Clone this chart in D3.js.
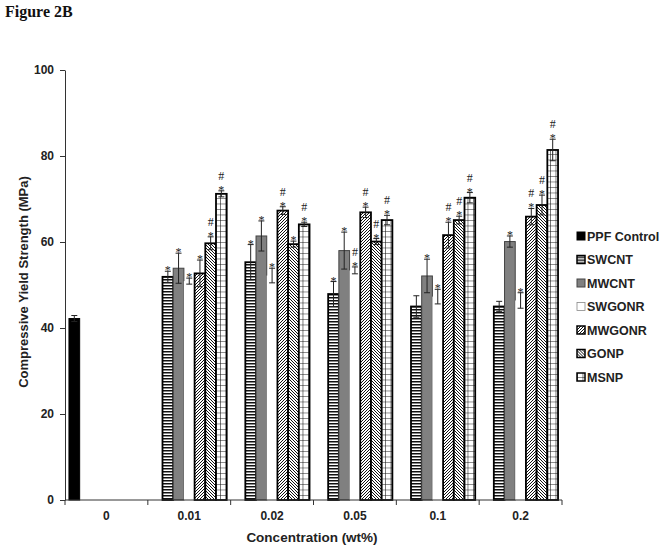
<!DOCTYPE html>
<html>
<head>
<meta charset="utf-8">
<script src="https://cdn.jsdelivr.net/npm/d3@7"></script>
<style>
  body { margin: 0; background: #fff; }
  svg { display: block; }
  .axis text { font-family: "Liberation Sans", Arial, sans-serif; font-weight: bold; font-size: 12px; fill: #222; }
  .axis path, .axis line { stroke: #333; }
  .mark { font-family: "Liberation Serif", "Times New Roman", serif; font-size: 12px; fill: #222; }
</style>
</head>
<body>
<svg id="chart" width="664" height="549"></svg>
<script>
// Categories and series
const categories = ["0", "0.01", "0.02", "0.05", "0.1", "0.2"];
const seriesNames = ["PPF Control", "SWCNT", "MWCNT", "SWGONR", "MWGONR", "GONP", "MSNP"];

// Mean compressive yield strength (MPa), null = no bar
const controlVals = [42.2, null, null, null, null, null];
const swcntVals   = [null, 51.9, 55.3, 47.9, 45.0, 45.0];
const mwcntVals   = [null, 53.9, 61.4, 58.0, 52.1, 60.1];
const swgonrVals  = [null, 50.9, 52.2, 53.4, 47.3, 46.4];
const mwgonrVals  = [null, 52.7, 67.3, 66.9, 61.6, 65.9];
const gonpVals    = [null, 59.7, 59.5, 60.1, 65.1, 68.6];
const msnpVals    = [null, 71.2, 64.1, 65.1, 70.3, 81.4];

// Standard deviations
const controlErr = [0.7, null, null, null, null, null];
const swcntErr   = [null, 1.3, 4.1, 2.9, 2.5, 1.2];
const mwcntErr   = [null, 3.5, 3.5, 4.3, 3.9, 1.3];
const swgonrErr  = [null, 0.7, 1.7, 0.8, 1.7, 1.8];
const mwgonrErr  = [null, 3.1, 0.9, 1.2, 3.0, 1.9];
const gonpErr    = [null, 1.5, 0.7, 0.7, 0.9, 2.3];
const msnpErr    = [null, 0.7, 0.5, 1.1, 1.2, 2.5];

// Significance marks ("*" vs control, "#" second comparison)
const controlMarks = ["", "", "", "", "", ""];
const swcntMarks   = ["", "*", "*", "*", "", ""];
const mwcntMarks   = ["", "*", "*", "*", "*", "*"];
const swgonrMarks  = ["", "*", "*", "#*", "*", "*"];
const mwgonrMarks  = ["", "*", "#*", "#*", "#*", "#*"];
const gonpMarks    = ["", "#*", "*", "#*", "#*", "#*"];
const msnpMarks    = ["", "#*", "#*", "#*", "#*", "#*"];

const allVals  = [controlVals, swcntVals, mwcntVals, swgonrVals, mwgonrVals, gonpVals, msnpVals];
const allErrs  = [controlErr, swcntErr, mwcntErr, swgonrErr, mwgonrErr, gonpErr, msnpErr];
const allMarks = [controlMarks, swcntMarks, mwcntMarks, swgonrMarks, mwgonrMarks, gonpMarks, msnpMarks];

const svg = d3.select("#chart");
const defs = svg.append("defs");

// Patterns
function stripes(id, w, h, draw) {
    const p = defs.append("pattern").attr("id", id)
        .attr("patternUnits", "userSpaceOnUse").attr("width", w).attr("height", h);
    p.append("rect").attr("width", w).attr("height", h).attr("fill", "#fff");
    draw(p);
}
stripes("p-hstripe", 4, 3, p => {
    p.append("rect").attr("y", 0).attr("width", 4).attr("height", 1.5).attr("fill", "#111");
});
stripes("p-fwd", 3, 3, p => {
    p.append("path").attr("d", "M-1,1 L1,-1 M0,3 L3,0 M2,4 L4,2").attr("stroke", "#111").attr("stroke-width", 1);
});
stripes("p-back", 3, 3, p => {
    p.append("path").attr("d", "M-1,2 L1,4 M0,0 L3,3 M2,-1 L4,1").attr("stroke", "#111").attr("stroke-width", 1);
});
stripes("p-grid", 5.5, 5.5, p => {
    p.append("path").attr("d", "M0,0 H5.5 M0,0 V5.5").attr("stroke", "#111").attr("stroke-width", 1.1);
});

const styles = [
    { fill: "#000", stroke: "#000", sw: 1 },
    { fill: "url(#p-hstripe)", stroke: "#000", sw: 1.8 },
    { fill: "#808080", stroke: "#444", sw: 1 },
    { fill: "#fff", stroke: "none", sw: 0 },
    { fill: "url(#p-fwd)", stroke: "#000", sw: 1.8 },
    { fill: "url(#p-back)", stroke: "#000", sw: 1.8 },
    { fill: "url(#p-grid)", stroke: "#000", sw: 1.8 }
];

// Scales
const y = d3.scaleLinear().domain([0, 100]).range([500, 70]);
const x0 = d3.scaleBand().domain(categories).range([65, 562]).padding(0);
const x1 = d3.scaleBand().domain(seriesNames).range([0, x0.bandwidth()])
    .paddingInner(0).paddingOuter(0.37);

// Title
svg.append("text").attr("x", 5).attr("y", 17)
    .attr("font-family", "Liberation Serif, Times New Roman, serif")
    .attr("font-weight", "bold").attr("font-size", 16).attr("fill", "#111")
    .text("Figure 2B");

// Bars
const bars = [];
seriesNames.forEach((s, si) => {
    categories.forEach((c, ci) => {
        const v = allVals[si][ci];
        if (v == null) return;
        bars.push({ s, si, c, v, e: allErrs[si][ci], m: allMarks[si][ci] });
    });
});

const g = svg.append("g");
g.selectAll("rect.bar").data(bars).enter().append("rect")
    .attr("class", "bar")
    .attr("x", d => x0(d.c) + x1(d.s))
    .attr("y", d => y(d.v))
    .attr("width", x1.bandwidth())
    .attr("height", d => y(0) - y(d.v))
    .attr("fill", d => styles[d.si].fill)
    .attr("stroke", d => styles[d.si].stroke)
    .attr("stroke-width", d => styles[d.si].sw);

// Error bars
const eb = g.selectAll("g.err").data(bars).enter().append("g")
    .attr("class", "err")
    .attr("stroke", "#222").attr("stroke-width", 1);
const cx = d => x0(d.c) + x1(d.s) + x1.bandwidth() / 2;
eb.append("line").attr("x1", cx).attr("x2", cx)
    .attr("y1", d => y(d.v + d.e)).attr("y2", d => y(d.v - d.e));
eb.append("line").attr("x1", d => cx(d) - 3).attr("x2", d => cx(d) + 3)
    .attr("y1", d => y(d.v + d.e)).attr("y2", d => y(d.v + d.e));
eb.append("line").attr("x1", d => cx(d) - 3).attr("x2", d => cx(d) + 3)
    .attr("y1", d => y(d.v - d.e)).attr("y2", d => y(d.v - d.e));

// Significance marks: "#" stacked over "*"
bars.filter(d => d.m).forEach(d => {
    const top = y(d.v + d.e);
    if (d.m.includes("#")) {
        g.append("text").attr("class", "mark").attr("text-anchor", "middle")
            .attr("x", cx(d)).attr("y", top - 11).text("#");
    }
    g.append("text").attr("class", "mark").attr("text-anchor", "middle")
        .attr("x", cx(d)).attr("y", top + 3).text("*");
});

// Y axis
svg.append("g").attr("class", "axis")
    .attr("transform", "translate(65,0)")
    .call(d3.axisLeft(y).tickValues([0, 20, 40, 60, 80, 100]).tickSize(5).tickSizeOuter(0).tickPadding(6));

// X axis
const xa = svg.append("g").attr("class", "axis").attr("transform", `translate(0,${y(0)})`);
xa.append("line").attr("x1", 65).attr("x2", 562).attr("stroke", "#333");
const bounds = categories.map(c => x0(c)).concat([x0.range()[1]]);
xa.selectAll("line.tk").data(bounds).enter().append("line").attr("class", "tk")
    .attr("x1", d => d).attr("x2", d => d).attr("y1", 0).attr("y2", 5).attr("stroke", "#333");
xa.selectAll("text").data(categories).enter().append("text")
    .attr("x", d => x0(d) + x0.bandwidth() / 2).attr("y", 20)
    .attr("text-anchor", "middle").text(d => d);

// Axis titles
svg.append("text").attr("transform", "translate(28,282) rotate(-90)")
    .attr("text-anchor", "middle")
    .attr("font-family", "Liberation Sans, Arial, sans-serif")
    .attr("font-weight", "bold").attr("font-size", 13).attr("fill", "#222")
    .text("Compressive Yield Strength (MPa)");
svg.append("text").attr("x", 312).attr("y", 542)
    .attr("text-anchor", "middle")
    .attr("font-family", "Liberation Sans, Arial, sans-serif")
    .attr("font-weight", "bold").attr("font-size", 13.5).attr("fill", "#222")
    .text("Concentration (wt%)");

// Legend
const legend = svg.append("g").attr("transform", "translate(577,236)");
const li = legend.selectAll("g").data(seriesNames).enter().append("g")
    .attr("transform", (d, i) => `translate(0,${i * 23.5})`);
li.append("rect").attr("x", 0).attr("y", -4).attr("width", 8).attr("height", 8)
    .attr("fill", (d, i) => styles[i].fill)
    .attr("stroke", (d, i) => i === 3 ? "#888" : styles[i].stroke)
    .attr("stroke-width", (d, i) => i === 3 ? 0.8 : Math.min(styles[i].sw, 1.5));
li.append("text").attr("x", 10).attr("y", 4.5)
    .attr("font-family", "Liberation Sans, Arial, sans-serif")
    .attr("font-weight", "bold").attr("font-size", 12.5).attr("fill", "#222")
    .text(d => d);
</script>
</body>
</html>
